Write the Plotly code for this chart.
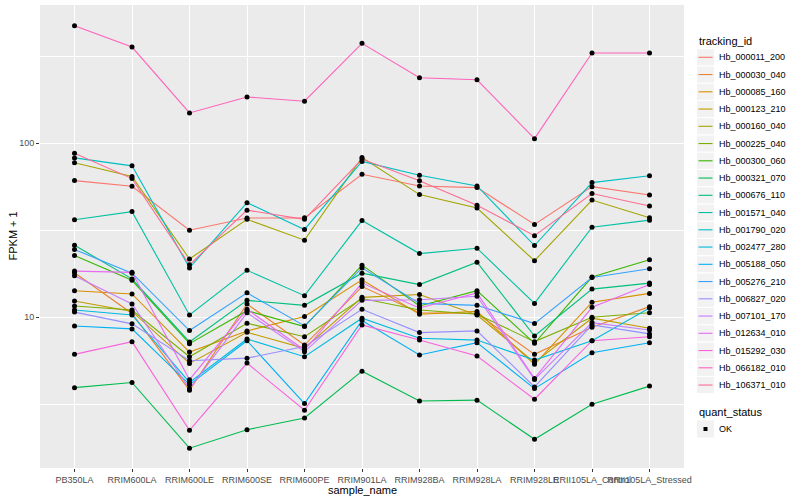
import plotly.graph_objects as go

samples = ["PB350LA", "RRIM600LA", "RRIM600LE", "RRIM600SE", "RRIM600PE", "RRIM901LA",
           "RRIM928BA", "RRIM928LA", "RRIM928LE", "RRII105LA_Control", "RRII105LA_Stressed"]

tracking_ids = ["Hb_000011_200", "Hb_000030_040", "Hb_000085_160", "Hb_000123_210", "Hb_000160_040",
                "Hb_000225_040", "Hb_000300_060", "Hb_000321_070", "Hb_000676_110", "Hb_001571_040",
                "Hb_001790_020", "Hb_002477_280", "Hb_005188_050", "Hb_005276_210", "Hb_006827_020",
                "Hb_007101_170", "Hb_012634_010", "Hb_015292_030", "Hb_066182_010", "Hb_106371_010"]

colors = ["#F8766D", "#EA8331", "#D89000", "#C09B00", "#A3A500", "#7CAE00", "#39B600", "#00BB4E",
          "#00BF7D", "#00C1A3", "#00BFC4", "#00BAE0", "#00B0F6", "#35A2FF", "#9590FF", "#C77CFF",
          "#E76BF3", "#FA62DB", "#FF62BC", "#FF6C91"]

quant_status = ["OK"]

# FPKM + 1 values per tracking id, in sample order
hb_000011_200 = [60.9, 56.5, 31.6, 37.1, 37.2, 66.2, 56.7, 55.5, 34.1, 56.2, 50.3]
hb_000030_040 = [18.0, 10.5, 3.81, 11.9, 6.92, 15.0, 10.6, 10.5, 6.12, 8.75, 11.5]
hb_000085_160 = [14.2, 13.6, 6.31, 8.34, 10.1, 16.4, 10.4, 10.8, 5.36, 12.2, 13.7]
hb_000123_210 = [12.4, 10.8, 5.43, 8.19, 6.62, 13.0, 13.5, 10.3, 5.50, 9.87, 8.64]
hb_000160_040 = [77.1, 64.3, 21.6, 36.5, 27.7, 82.7, 50.6, 42.4, 21.1, 47.1, 37.3]
hb_000225_040 = [11.6, 11.0, 5.93, 9.23, 7.73, 12.8, 11.0, 10.4, 7.24, 10.0, 10.6]
hb_000300_060 = [22.6, 16.3, 7.05, 10.9, 8.84, 19.9, 11.6, 14.2, 7.08, 17.0, 21.4]
hb_000321_070 = [3.94, 4.22, 1.77, 2.26, 2.64, 4.90, 3.30, 3.34, 1.99, 3.16, 4.02]
hb_000676_110 = [25.9, 16.6, 7.21, 12.5, 11.7, 17.9, 15.4, 20.7, 7.80, 14.5, 15.7]
hb_001571_040 = [36.3, 40.4, 10.3, 18.6, 13.3, 35.9, 23.2, 24.9, 12.0, 32.9, 36.1]
hb_001790_020 = [82.2, 74.0, 19.2, 45.5, 31.9, 78.4, 65.3, 56.7, 25.8, 59.3, 64.9]
hb_002477_280 = [11.0, 10.3, 4.22, 7.50, 5.93, 9.87, 7.57, 7.39, 5.67, 7.33, 11.3]
hb_005188_050 = [8.91, 8.57, 4.10, 7.33, 3.19, 9.57, 6.07, 7.14, 3.89, 6.25, 7.14]
hb_005276_210 = [24.5, 17.9, 8.38, 13.8, 8.91, 19.2, 12.0, 11.7, 9.19, 16.9, 19.0]
hb_006827_020 = [10.7, 9.16, 5.62, 5.82, 6.78, 11.1, 8.16, 8.34, 3.98, 9.03, 8.02]
hb_007101_170 = [17.3, 11.9, 3.89, 10.6, 6.34, 12.5, 12.6, 13.2, 4.39, 9.31, 8.45]
hb_012634_010 = [18.4, 18.1, 4.38, 11.1, 6.48, 15.7, 11.3, 13.8, 4.45, 11.4, 15.4]
hb_015292_030 = [6.12, 7.24, 2.24, 5.45, 2.92, 9.03, 7.39, 5.98, 3.38, 7.33, 7.73]
hb_066182_010 = [472, 356, 149, 184, 174, 374, 237, 231, 106, 329, 329]
hb_106371_010 = [87.5, 62.5, 20.0, 41.2, 36.5, 80.9, 60.7, 43.9, 29.4, 51.3, 43.5]

series = [hb_000011_200, hb_000030_040, hb_000085_160, hb_000123_210, hb_000160_040,
          hb_000225_040, hb_000300_060, hb_000321_070, hb_000676_110, hb_001571_040,
          hb_001790_020, hb_002477_280, hb_005188_050, hb_005276_210, hb_006827_020,
          hb_007101_170, hb_012634_010, hb_015292_030, hb_066182_010, hb_106371_010]

W, H = 800, 500
L, R, T, B = 40, 116, 5, 32
pw, ph = W - L - R, H - T - B

def px(x):
    return (x - L) / pw

def py(y):
    return (H - B - y) / ph

fig = go.Figure()
for name, col, vals in zip(tracking_ids, colors, series):
    fig.add_trace(go.Scatter(x=samples, y=vals, mode="lines", name=name,
                             line=dict(color=col, width=1.1), showlegend=False))

all_x = [s for vals in series for s in samples]
all_y = [v for vals in series for v in vals]
fig.add_trace(go.Scatter(x=all_x, y=all_y, mode="markers", name=quant_status[0],
                         marker=dict(color="black", size=5, symbol="circle"),
                         showlegend=False))

font = "Liberation Sans, Arial, sans-serif"
shapes = []
annotations = []

# legend: tracking_id
key_x0, key_x1 = 697, 714
text_x = 717
first_y, step = 57.3, 17.25
annotations.append(dict(text="tracking_id", xref="paper", yref="paper", x=px(697), y=py(41),
                        xanchor="left", yanchor="middle", showarrow=False,
                        font=dict(size=11, color="black")))
for i, (name, col) in enumerate(zip(tracking_ids, colors)):
    cy = first_y + i * step
    shapes.append(dict(type="rect", xref="paper", yref="paper", x0=px(key_x0), x1=px(key_x1),
                       y0=py(cy - step / 2 + 0.6), y1=py(cy + step / 2 - 0.6),
                       fillcolor="#F2F2F2", line=dict(width=0), layer="below"))
    shapes.append(dict(type="line", xref="paper", yref="paper", x0=px(key_x0 + 1.5), x1=px(key_x1 - 1.5),
                       y0=py(cy), y1=py(cy), line=dict(color=col, width=1.1)))
    annotations.append(dict(text=name, xref="paper", yref="paper", x=px(text_x), y=py(cy),
                            xanchor="left", yanchor="middle", showarrow=False,
                            font=dict(size=9, color="black")))

# legend: quant_status
annotations.append(dict(text="quant_status", xref="paper", yref="paper", x=px(697), y=py(412),
                        xanchor="left", yanchor="middle", showarrow=False,
                        font=dict(size=11, color="black")))
ok_y = 429
shapes.append(dict(type="rect", xref="paper", yref="paper", x0=px(key_x0), x1=px(key_x1),
                   y0=py(ok_y - 8.6), y1=py(ok_y + 8.6), fillcolor="#F2F2F2",
                   line=dict(width=0), layer="below"))
shapes.append(dict(type="rect", xref="paper", yref="paper", x0=px(703.5), x1=px(707.5),
                   y0=py(ok_y - 2), y1=py(ok_y + 2), fillcolor="black", line=dict(width=0)))
annotations.append(dict(text=quant_status[0], xref="paper", yref="paper", x=px(text_x), y=py(ok_y),
                        xanchor="left", yanchor="middle", showarrow=False,
                        font=dict(size=9, color="black")))

# axis titles
annotations.append(dict(text="sample_name", xref="paper", yref="paper", x=0.5, y=py(490),
                        xanchor="center", yanchor="middle", showarrow=False,
                        font=dict(size=11, color="black")))
annotations.append(dict(text="FPKM + 1", xref="paper", yref="paper", x=px(12), y=0.5,
                        xanchor="center", yanchor="middle", showarrow=False, textangle=-90,
                        font=dict(size=11, color="black")))

fig.update_layout(
    width=W, height=H,
    margin=dict(l=L, r=R, t=T, b=B, autoexpand=False),
    paper_bgcolor="white", plot_bgcolor="#EBEBEB",
    font=dict(family=font, size=9, color="black"),
    showlegend=False,
    shapes=shapes, annotations=annotations,
    xaxis=dict(type="category", categoryorder="array", categoryarray=samples,
               range=[-0.6, 10.6], showgrid=True, gridcolor="white", gridwidth=1.1,
               zeroline=False, ticks="outside", ticklen=3, tickcolor="#333333",
               tickangle=0, tickfont=dict(size=9, color="#4D4D4D"), automargin=False),
    yaxis=dict(type="log", range=[0.134, 2.793], tickvals=[10, 100], ticktext=["10", "100"],
               showgrid=True, gridcolor="white", gridwidth=1.1, zeroline=False,
               ticks="outside", ticklen=3, tickcolor="#333333",
               tickfont=dict(size=9, color="#4D4D4D"), automargin=False,
               minor=dict(tickvals=[3.1623, 31.623, 316.23], showgrid=True,
                          gridcolor="white", gridwidth=0.5, ticks="")),
)

fig.write_html("out.html", config={"displayModeBar": False},
               post_script="document.body.style.margin='0';")
